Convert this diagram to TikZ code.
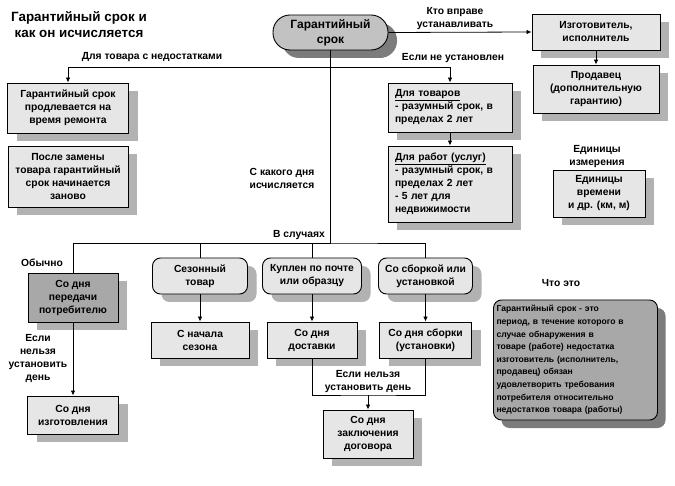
\documentclass[tikz,border=0pt]{standalone}
\usepackage{fontspec}
\setmainfont{Liberation Sans}
\usetikzlibrary{shadows,arrows.meta}
\definecolor{boxgray}{HTML}{E6E6E6}
\definecolor{pillgray}{HTML}{C2C2C2}
\definecolor{deepgray}{HTML}{A8A8A8}
\definecolor{shadowlight}{HTML}{B2B2B2}
\definecolor{shadowdark}{HTML}{7C7C7C}
\newcommand{\basefont}{\fontsize{10.3}{13}\selectfont\bfseries}
\tikzset{
  box/.style={ % square box with a light shadow
    draw, fill=boxgray, line width=0.9pt,
    align=center, inner sep=2pt, text=black,
    drop shadow={shadow xshift=9pt, shadow yshift=-8pt,
      fill=shadowlight, opacity=1}
  },
  darkbox/.style={ % the darker box (usual case)
    box, fill=deepgray,
    drop shadow={shadow xshift=9pt, shadow yshift=-8pt,
      fill=shadowlight, opacity=1}
  },
  rbox/.style={ % rounded box for the cases
    box, rounded corners=8pt
  },
  pill/.style={ % the central term
    draw, fill=pillgray, line width=0.9pt, rounded corners=17pt,
    align=center, inner sep=2pt, font=\fontsize{12}{15}\selectfont\bfseries,
    drop shadow={shadow xshift=9pt, shadow yshift=-8pt,
      fill=shadowdark, opacity=1}
  },
  defbox/.style={ % definition box
    draw, fill=deepgray, line width=0.9pt, rounded corners=8pt,
    align=left, inner sep=3pt, font=\fontsize{8.6}{12.6}\selectfont\bfseries,
    drop shadow={shadow xshift=8pt, shadow yshift=-8pt,
      fill=shadowdark, opacity=1}
  },
  lbl/.style={align=center, inner sep=0pt}
}

\begin{document}
\begin{tikzpicture}[
    x=1pt, y=-1pt, font=\basefont, line width=0.8pt,
    >={Latex[length=5pt,width=4.5pt]}
  ]
  \useasboundingbox[fill=white] (0,0) rectangle (675,486);

  \node[lbl, font=\fontsize{13.4}{16}\selectfont\bfseries] (title) at (79,25) {Гарантийный срок и\\как он исчисляется};

  % top row
  \node[pill, minimum width=115pt, minimum height=35pt] (garant) at (330.5,32.5) {Гарантийный\\срок};
  \node[box, minimum width=128pt, minimum height=36pt] (maker) at (596,32) {Изготовитель,\\исполнитель};
  \node[box, minimum width=126pt, minimum height=48pt] (seller) at (596,89) {Продавец\\(дополнительную\\гарантию)};

  % defects and not-set branches
  \node[box, minimum width=121pt, minimum height=50pt] (repair) at (68,108) {Гарантийный срок\\продлевается на\\время ремонта};
  \node[box, minimum width=120pt, minimum height=61pt] (replace) at (68,176.5) {После замены\\товара гарантийный\\срок  начинается\\заново};
  \node[box, align=left, inner xsep=7pt, text width=110pt, minimum height=49pt] (goods) at (450,107.5) {\underline{Для товаров}\\- разумный срок,  в\\пределах 2 лет};
  \node[box, align=left, inner xsep=7pt, text width=110pt, minimum height=76pt] (works) at (450,184) {\underline{Для работ (услуг)}\\- разумный срок,  в\\пределах 2 лет\\-  5 лет для\\недвижимости};
  \node[box, minimum width=92pt, minimum height=47pt] (units) at (599,193.5) {Единицы\\времени\\и др. (км, м)};

  % cases
  \node[darkbox, minimum width=90pt, minimum height=49pt] (transfer) at (73,297.5) {Со дня\\передачи\\потребителю};
  \node[rbox, minimum width=95pt, minimum height=36pt] (season) at (200,276) {Сезонный\\товар};
  \node[rbox, minimum width=99pt, minimum height=36pt] (mail) at (312,276) {Куплен по почте\\или образцу};
  \node[rbox, minimum width=94pt, minimum height=36pt] (assembly) at (425.5,276) {Со сборкой или\\установкой};

  \node[box, minimum width=98pt, minimum height=36pt] (season_day) at (200,340) {С начала\\сезона};
  \node[box, minimum width=90pt, minimum height=36pt] (delivery) at (312,340) {Со дня\\доставки};
  \node[box, minimum width=92pt, minimum height=36pt] (assembly_day) at (425.5,340) {Со дня  сборки\\(установки)};
  \node[box, minimum width=91pt, minimum height=38pt] (manufacture) at (73,415) {Со дня\\изготовления};
  \node[box, minimum width=90pt, minimum height=48pt] (contract) at (368,434) {Со дня\\заключения\\договора};

  \node[defbox, text width=158pt, minimum height=120pt] (definition) at (575.5,360) {Гарантийный срок - это\\период, в течение которого в\\случае обнаружения в\\товаре (работе) недостатка\\изготовитель (исполнитель,\\продавец) обязан\\удовлетворить требования\\потребителя относительно\\недостатков товара (работы)};

  % labels
  \node[lbl] (who_label) at (455,19) {Кто вправе\\устанавливать};
  \node[lbl] (unset_label) at (453,58) {Если не установлен};
  \node[lbl] (defect_label) at (152,57) {Для товара с недостатками};
  \node[lbl] (units_label) at (597,157) {Единицы\\измерения};
  \node[lbl] (day_label) at (282,178) {С какого дня\\исчисляется};
  \node[lbl] (cases_label) at (299,235) {В случаях};
  \node[lbl] (usual_label) at (42,263) {Обычно};
  \node[lbl] (nodate_label) at (38,358) {Если\\нельзя\\установить\\день};
  \node[lbl] (nodate2_label) at (368,382) {Если нельзя\\установить день};
  \node[lbl] (what_label) at (561,283) {Что это};

  \coordinate (fork_top) at (330.5,67);
  \coordinate (fork_cases) at (330.5,243);
  \coordinate (fail_mid) at (368,395);

  \draw (garant.south) -- (fork_cases);
  \draw[->] (garant.east) -- (maker.west);
  \draw[->] (maker.south) -- (seller.north);
  \draw[->] (fork_top) -| (repair.north);
  \draw[->] (fork_top) -| (goods.north);
  \draw[->] (goods.south) -- (works.north);

  \draw (transfer.north) |- (fork_cases) -| (assembly.north);
  \draw (season.north) |- (fork_cases);
  \draw (mail.north) |- (fork_cases);

  \draw[->] (transfer.south) -- (manufacture.north);
  \draw[->] (season.south) -- (season_day.north);
  \draw[->] (mail.south) -- (delivery.north);
  \draw[->] (assembly.south) -- (assembly_day.north);
  \draw (delivery.south) |- (fail_mid) -| (assembly_day.south);
  \draw[->] (fail_mid) -- (contract.north);
\end{tikzpicture}
\end{document}
